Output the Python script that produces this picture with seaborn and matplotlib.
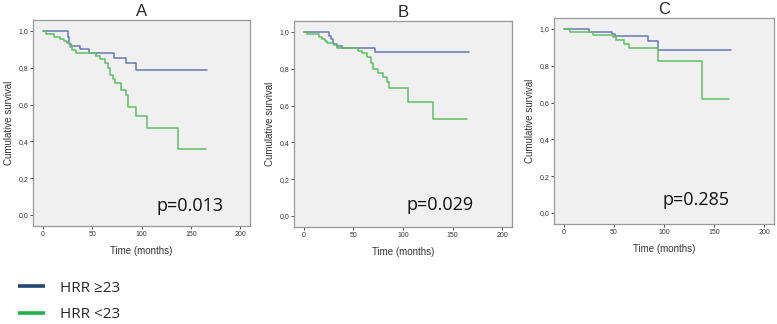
import numpy as np
import pandas as pd
import matplotlib.pyplot as plt
from matplotlib.lines import Line2D
import seaborn as sns

# Kaplan-Meier step values (time in months, survival)
a_hi_t = [0, 25, 26, 27, 29, 38, 47, 72, 84, 94, 166]
a_hi_s = [1.0, 0.97, 0.95, 0.93, 0.92, 0.90, 0.88, 0.855, 0.824, 0.788, 0.788]
a_lo_t = [0, 3, 11, 17, 21, 24, 28, 30, 34, 54, 58, 63, 66, 68, 71, 73, 79, 84, 86, 94.5, 106, 137.5, 165]
a_lo_s = [1.0, 0.982, 0.969, 0.957, 0.946, 0.933, 0.915, 0.897, 0.879, 0.864, 0.846, 0.828, 0.80,
          0.76, 0.737, 0.716, 0.68, 0.652, 0.585, 0.538, 0.471, 0.356, 0.356]

b_hi_t = [0, 25, 27, 29, 33, 38, 72, 167]
b_hi_s = [1.0, 0.978, 0.96, 0.937, 0.924, 0.913, 0.889, 0.889]
b_lo_t = [0, 3, 15, 18, 21, 23, 30, 33, 55, 59, 64, 68, 70, 75, 80, 84, 86, 105, 130, 165]
b_lo_s = [1.0, 0.987, 0.975, 0.964, 0.953, 0.942, 0.927, 0.913, 0.899, 0.886, 0.862, 0.83, 0.80,
          0.776, 0.758, 0.73, 0.695, 0.617, 0.529, 0.529]

c_hi_t = [0, 25, 48, 51, 84, 94, 167]
c_hi_s = [1.0, 0.982, 0.973, 0.964, 0.937, 0.888, 0.888]
c_lo_t = [0, 6, 29, 49, 52, 60, 65, 94, 138, 165]
c_lo_s = [1.0, 0.982, 0.967, 0.955, 0.942, 0.918, 0.895, 0.828, 0.62, 0.62]

panel_titles = ['A', 'B', 'C']
p_values = ['p=0.013', 'p=0.029', 'p=0.285']
p_pos = [(115, 0.05), (104, 0.06), (98, 0.07)]
groups = ['HRR \u226523', 'HRR <23']

sns.set_theme(style='ticks')
plt.rcParams['font.family'] = ['Liberation Sans', 'DejaVu Sans']

line_pal = {groups[0]: '#6878b4', groups[1]: '#5fc064'}
leg_pal = ['#24477a', '#22b04c']

curves = [((a_hi_t, a_hi_s), (a_lo_t, a_lo_s)),
          ((b_hi_t, b_hi_s), (b_lo_t, b_lo_s)),
          ((c_hi_t, c_hi_s), (c_lo_t, c_lo_s))]

fig = plt.figure(figsize=(7.77, 3.24), dpi=100)
boxes = [(33, 20, 217, 206), (294, 21, 218, 206), (554, 18, 220, 206)]

for i, (box, (hi, lo)) in enumerate(zip(boxes, curves)):
    x0, y0, w, h = box
    ax = fig.add_axes([x0 / 777, 1 - (y0 + h) / 324, w / 777, h / 324])
    df = pd.concat([
        pd.DataFrame({'time': hi[0], 'surv': hi[1], 'grp': groups[0]}),
        pd.DataFrame({'time': lo[0], 'surv': lo[1], 'grp': groups[1]}),
    ])
    sns.lineplot(data=df, x='time', y='surv', hue='grp', palette=line_pal,
                 estimator=None, sort=False, drawstyle='steps-post',
                 linewidth=1.1, legend=False, ax=ax)
    ax.set_facecolor('#f0f0f0')
    ax.set_xlim(-10, 210)
    ax.set_ylim(-0.06, 1.06)
    ax.set_xticks([0, 50, 100, 150, 200])
    ax.set_yticks([0, 0.2, 0.4, 0.6, 0.8, 1.0])
    ax.set_yticklabels(['0,0', '0,2', '0,4', '0,6', '0,8', '1,0'])
    ax.tick_params(labelsize=5, length=2, width=0.6, pad=1.5, colors='#333333')
    for s in ax.spines.values():
        s.set_color('#999999')
        s.set_linewidth(0.9)
    ax.set_xlabel('Time (months)', fontsize=7, labelpad=6, color='#333333')
    ax.set_ylabel('Cumulative survival', fontsize=7, labelpad=3, color='#333333')
    ax.set_title(panel_titles[i], fontsize=12, pad=3)
    ax.text(p_pos[i][0], p_pos[i][1], p_values[i], fontsize=13, va='center', ha='left',
            family=['Open Sans', 'DejaVu Sans'], color='#111111')

handles = [Line2D([], [], color=c, lw=2.6, solid_capstyle='butt') for c in leg_pal]
fig.legend(handles, groups, loc='upper left', bbox_to_anchor=(0.005, 1 - 267 / 324),
           frameon=False, handlelength=1.8, handletextpad=1.0,
           labelspacing=0.75, prop={'family': ['Open Sans', 'DejaVu Sans'], 'size': 11})

fig.savefig('out.png', dpi=100)
